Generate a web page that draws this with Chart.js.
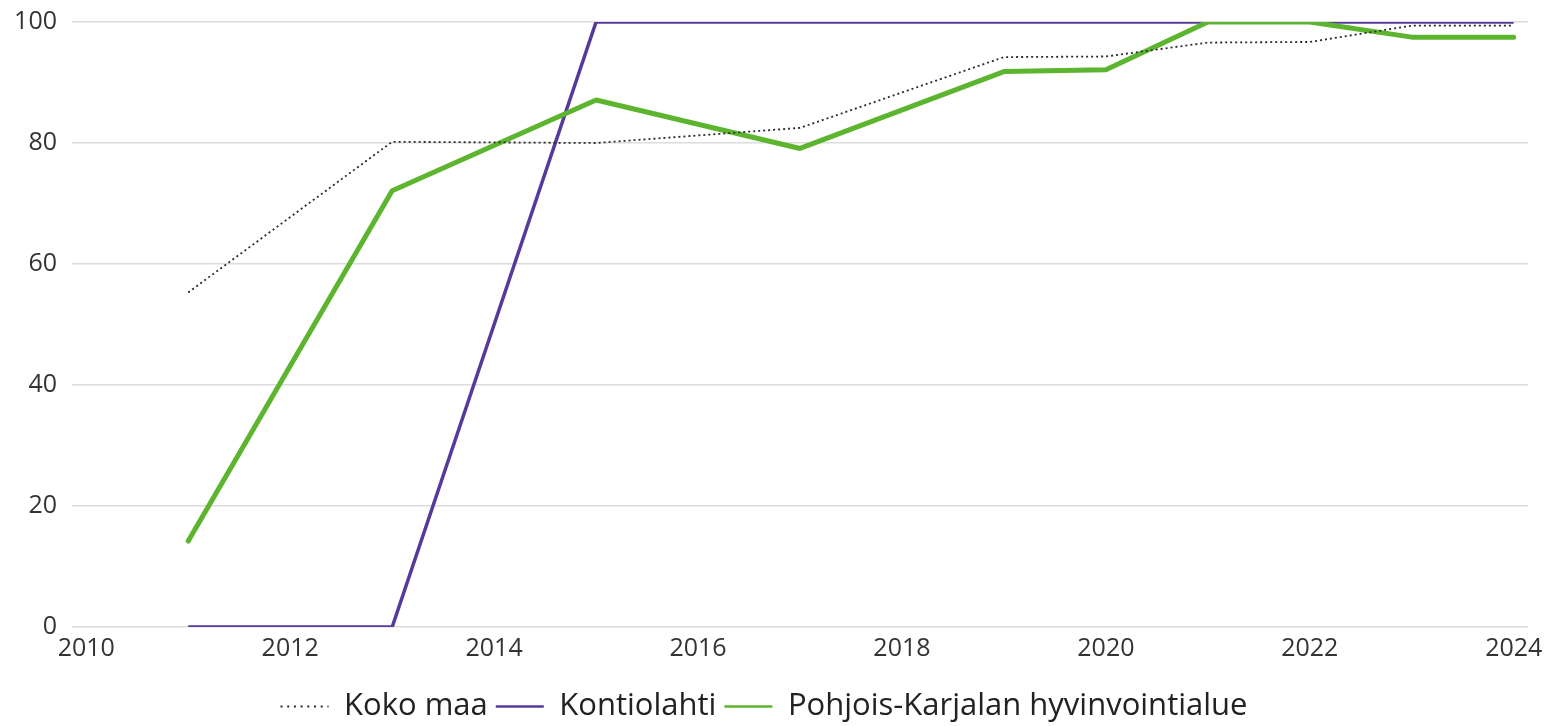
<!DOCTYPE html>
<html>
<head>
<meta charset="utf-8">
<script src="https://cdn.jsdelivr.net/npm/chart.js@4.4.1/dist/chart.umd.min.js"></script>
<style>
  html, body { margin: 0; padding: 0; background: #ffffff; }
  #wrap { width: 1550px; height: 726px; position: relative; }
</style>
</head>
<body>
<div id="wrap"><canvas id="c" width="1550" height="726"></canvas></div>
<script>
const years = [2011, 2013, 2015, 2017, 2019, 2020, 2021, 2022, 2023, 2024];
const kokoMaa = [55.3, 80.2, 80.0, 82.5, 94.2, 94.3, 96.6, 96.7, 99.4, 99.4];
const kontiolahti = [0, 0, 100, 100, 100, 100, 100, 100, 100, 100];
const pohjoisKarjala = [14.2, 72.1, 87.1, 79.1, 91.8, 92.1, 100, 100, 97.5, 97.5];
const seriesNames = ['Koko maa', 'Kontiolahti', 'Pohjois-Karjalan hyvinvointialue'];
const xTicks = [2010, 2012, 2014, 2016, 2018, 2020, 2022, 2024];
const yTicks = [0, 20, 40, 60, 80, 100];

const toPts = vals => years.map((y, i) => ({ x: y, y: vals[i] }));
const FONT = "'Open Sans', 'Noto Sans', sans-serif";

new Chart(document.getElementById('c'), {
  type: 'line',
  data: {
    datasets: [
      { label: seriesNames[0], data: toPts(kokoMaa), borderColor: '#2b2b2b', borderWidth: 1.8, borderDash: [2, 3], pointRadius: 0, tension: 0, fill: false, order: 0 },
      { label: seriesNames[1], data: toPts(kontiolahti), borderColor: '#553a9c', borderWidth: 3.5, pointRadius: 0, tension: 0, fill: false, order: 2 },
      { label: seriesNames[2], data: toPts(pohjoisKarjala), borderColor: '#5db52f', borderWidth: 5, pointRadius: 0, tension: 0, fill: false, order: 1, borderCapStyle: 'round', borderJoinStyle: 'round' }
    ]
  },
  options: {
    responsive: false,
    animation: false,
    layout: { padding: { left: 0, right: 22, top: 22, bottom: -6 } },
    plugins: {
      tooltip: { enabled: false },
      legend: {
        position: 'bottom',
        labels: {
          font: { family: FONT, size: 31 },
          color: '#222222',
          usePointStyle: true,
          pointStyle: 'line',
          pointStyleWidth: 48,
          padding: 8,
          sort: (a, b) => a.datasetIndex - b.datasetIndex,
          generateLabels: (chart) => {
            const items = Chart.defaults.plugins.legend.labels.generateLabels(chart);
            items.forEach(it => {
              if (it.datasetIndex === 0) { it.lineWidth = 2; it.lineDash = [2, 4.7]; }
              else { it.lineWidth = 2.5; }
            });
            return items;
          }
        }
      }
    },
    scales: {
      x: {
        type: 'linear',
        min: 2009.86,
        max: 2024.14,
        afterBuildTicks: (scale) => { scale.ticks = xTicks.map(v => ({ value: v })); },
        afterFit: (scale) => { scale.height = 56; },
        ticks: { font: { family: FONT, size: 25 }, color: '#333333', padding: 7, maxRotation: 0, autoSkip: false, callback: v => String(v) },
        grid: { display: false, drawTicks: false },
        border: { display: false }
      },
      y: {
        min: 0,
        max: 100,
        afterBuildTicks: (scale) => { scale.ticks = yTicks.map(v => ({ value: v })); },
        afterFit: (scale) => { scale.width = 72; scale.paddingTop = 0; scale.paddingBottom = 0; },
        ticks: { font: { family: FONT, size: 25 }, color: '#333333', padding: 15 },
        grid: { color: '#dcdcdc', lineWidth: 1.5, drawTicks: false },
        border: { display: false }
      }
    }
  }
});
</script>
</body>
</html>
